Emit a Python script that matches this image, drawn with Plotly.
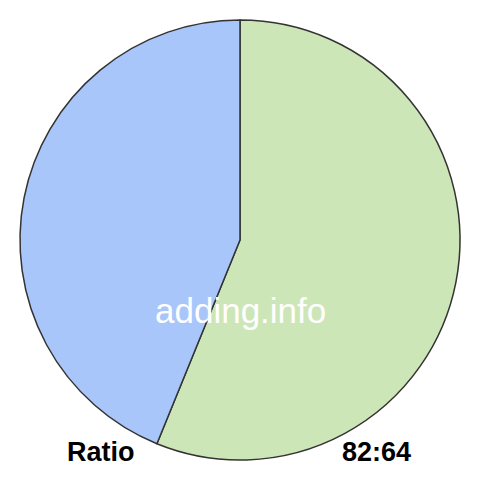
import plotly.graph_objects as go

labels = ["82", "64"]
values = [82, 64]
colors = ["#cde6b8", "#a8c6fa"]

fig = go.Figure()
fig.add_trace(go.Pie(
    labels=labels, values=values, sort=False, direction="clockwise", rotation=0,
    marker=dict(colors=colors, line=dict(color="#333333", width=1.5)),
    textinfo="none", hoverinfo="skip", showlegend=False,
    domain=dict(x=[20 / 480, 460 / 480], y=[20 / 480, 460 / 480]),
))

font = "Liberation Sans, Arial"
fig.add_annotation(x=0.5, y=1 - 310 / 480, xref="paper", yref="paper", text="adding.info",
                   xanchor="center", yanchor="middle", showarrow=False,
                   font=dict(family=font, size=35, color="white"))
fig.add_annotation(x=101 / 480, y=1 - 452 / 480, xref="paper", yref="paper", text="<b>Ratio</b>",
                   xanchor="center", yanchor="middle", showarrow=False,
                   font=dict(family=font, size=27, color="black"))
fig.add_annotation(x=376 / 480, y=1 - 452 / 480, xref="paper", yref="paper", text="<b>82:64</b>",
                   xanchor="center", yanchor="middle", showarrow=False,
                   font=dict(family=font, size=27, color="black"))

fig.update_layout(width=480, height=480, margin=dict(l=0, r=0, t=0, b=0),
                  paper_bgcolor="white", plot_bgcolor="white")
fig.write_html("out.html", config={"displayModeBar": False},
               post_script="document.body.style.margin='0';")
